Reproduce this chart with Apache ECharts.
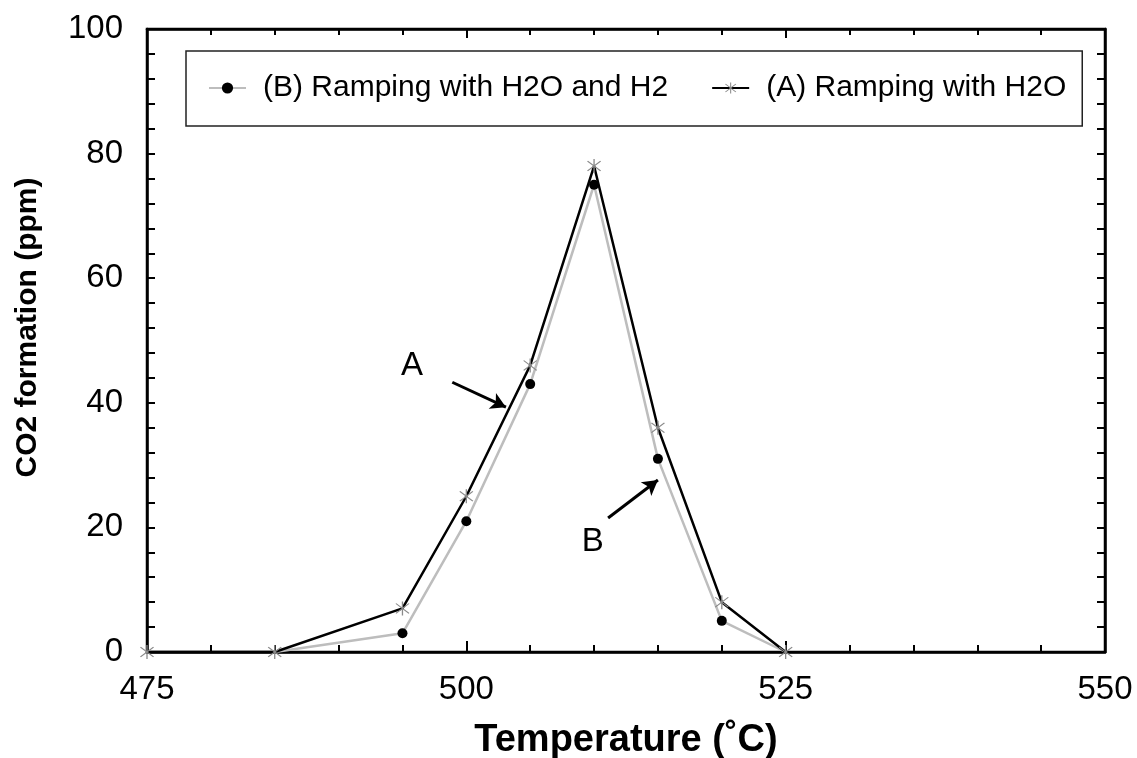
<!DOCTYPE html>
<html>
<head>
<meta charset="utf-8">
<script src="https://cdn.jsdelivr.net/npm/echarts@6/dist/echarts.min.js"></script>
<style>
html,body{margin:0;padding:0;background:#fff;}
#chart{width:1137px;height:758px;}
</style>
</head>
<body>
<div id="chart"></div>
<script>
// ---- data ----
const temperatures = [475, 485, 495, 500, 505, 510, 515, 520, 525];
const seriesA = [0, 0, 7, 25, 46, 78, 36, 8, 0];            // (A) Ramping with H2O
const seriesBTemps = [485, 495, 500, 505, 510, 515, 520, 525];
const seriesB = [0, 3, 21, 43, 75, 31, 5, 0];               // (B) Ramping with H2O and H2
const seriesBHidden = [485, 525];                           // points drawn without a marker
const nameA = '(A) Ramping with H2O';
const nameB = '(B) Ramping with H2O and H2';
const xTicks = { min: 475, max: 550, step: 25 };
const yTicks = { min: 0, max: 100, step: 20 };
// annotation arrows: [start, tip] in data units
const arrowA = [[498.9, 43.3], [503.1, 39.3]];
const arrowB = [[511.1, 21.5], [515.0, 27.6]];
const labelA = [495.75, 46.0];
const labelB = [509.9, 17.6];

const FONT = '"Liberation Sans", Arial, sans-serif';
const STAR = 'path://M46.5,0L53.5,0L53.5,100L46.5,100Z M12.5,17.5L17.5,12.5L87.5,82.5L82.5,87.5Z M82.5,12.5L87.5,17.5L17.5,87.5L12.5,82.5Z';

const dataA = temperatures.map((t, i) => [t, seriesA[i]]);
const dataB = seriesBTemps.map((t, i) => {
  const item = { value: [t, seriesB[i]] };
  if (seriesBHidden.includes(t)) item.symbolSize = 0;
  return item;
});

const chart = echarts.init(document.getElementById('chart'), null, { renderer: 'canvas' });

function xAxisDef(pos, showLabel) {
  return {
    type: 'value', position: pos,
    min: xTicks.min, max: xTicks.max, interval: xTicks.step,
    axisLine: { show: true, onZero: false, lineStyle: { color: '#000', width: 2.5 } },
    axisTick: { show: true, inside: true, length: pos === 'bottom' ? 11 : 9, lineStyle: { color: '#000', width: 2 } },
    minorTick: { show: true, splitNumber: 5, length: pos === 'bottom' ? 7 : 6, lineStyle: { color: '#000', width: 2 } },
    axisLabel: { show: showLabel, fontSize: 33, color: '#000', fontFamily: FONT, margin: 21 },
    splitLine: { show: false }, minorSplitLine: { show: false }
  };
}
function yAxisDef(pos, showLabel) {
  return {
    type: 'value', position: pos,
    min: yTicks.min, max: yTicks.max, interval: yTicks.step,
    axisLine: { show: true, onZero: false, lineStyle: { color: '#000', width: 2.5 } },
    axisTick: { show: true, inside: true, length: 8, lineStyle: { color: '#000', width: 2 } },
    minorTick: { show: true, splitNumber: 5, length: 8, lineStyle: { color: '#000', width: 2 } },
    axisLabel: { show: showLabel, fontSize: 33, color: '#000', fontFamily: FONT, margin: 24 },
    splitLine: { show: false }, minorSplitLine: { show: false }
  };
}

const xBottom = xAxisDef('bottom', true);
xBottom.name = 'Temperature (˚C)';
xBottom.nameLocation = 'middle';
xBottom.nameGap = 70;
xBottom.nameTextStyle = { fontSize: 38, fontWeight: 'bold', color: '#000', fontFamily: FONT };
const yLeft = yAxisDef('left', true);
yLeft.name = 'CO2 formation (ppm)';
yLeft.nameLocation = 'middle';
yLeft.nameGap = 104;
yLeft.nameTextStyle = { fontSize: 30, fontWeight: 'bold', color: '#000', fontFamily: FONT, padding: [0, 0, 0, 26] };

const option = {
  backgroundColor: '#fff',
  animation: false,
  grid: { left: 147, right: 32, top: 29, bottom: 106, show: true, borderColor: '#000', borderWidth: 2.5, outerBoundsMode: 'none', containLabel: false },
  legend: {
    left: 186, top: 51,
    orient: 'horizontal',
    padding: [22, 16, 23, 22],
    itemGap: 43,
    itemWidth: 37, itemHeight: 14,
    borderColor: '#222', borderWidth: 1.5,
    backgroundColor: '#fff',
    textStyle: { fontSize: 30, color: '#000', fontFamily: FONT, padding: [0, 0, 0, 12] },
    data: [nameB, nameA]
  },
  xAxis: [xBottom, xAxisDef('top', false)],
  yAxis: [yLeft, yAxisDef('right', false)],
  series: [
    {
      name: nameB, type: 'line', data: dataB, clip: false,
      symbol: 'circle', symbolSize: 10,
      itemStyle: { color: '#000' },
      lineStyle: { color: '#bdbdbd', width: 2.5 },
      z: 2
    },
    {
      name: nameA, type: 'line', data: dataA, clip: false,
      symbol: STAR, symbolSize: 14,
      itemStyle: { color: '#8a8a8a' },
      lineStyle: { color: '#000', width: 2.5 },
      z: 3,
      markLine: {
        silent: true, animation: false,
        symbol: ['none', 'arrow'], symbolSize: [13, 15],
        lineStyle: { color: '#000', width: 3, type: 'solid' },
        label: { show: false },
        data: [
          [{ coord: arrowA[0] }, { coord: arrowA[1] }],
          [{ coord: arrowB[0] }, { coord: arrowB[1] }]
        ]
      },
      markPoint: {
        silent: true, animation: false,
        symbol: 'circle', symbolSize: 1,
        itemStyle: { color: 'rgba(0,0,0,0)' },
        label: { show: true, position: 'inside', fontSize: 33, color: '#000', fontFamily: FONT, formatter: p => p.name },
        data: [
          { name: 'A', coord: labelA },
          { name: 'B', coord: labelB }
        ]
      }
    }
  ]
};
chart.setOption(option);
</script>
</body>
</html>
